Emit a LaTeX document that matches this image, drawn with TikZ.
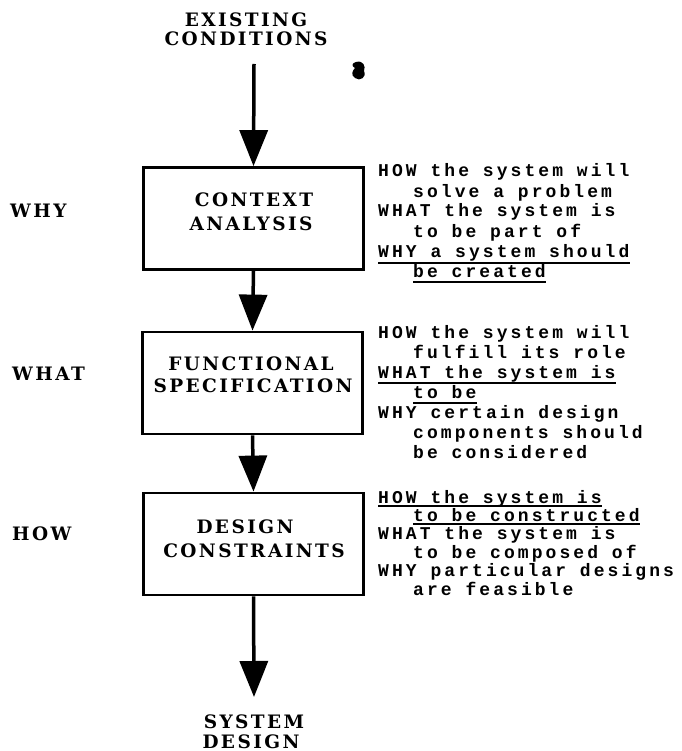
\documentclass[tikz,border=0pt]{standalone}
\usepackage{fontspec}
\setmainfont{DejaVu Serif}
% spaced serif capitals for stage names and side labels
\newfontfamily\capsfont[LetterSpace=13]{DejaVu Serif}
% spaced typewriter face for the explanatory notes
\newfontfamily\typefont[LetterSpace=17]{Liberation Mono}
\usetikzlibrary{arrows.meta}

\begin{document}
\begin{tikzpicture}[x=1pt,y=-1pt,
  box/.style={draw, line width=2.8pt, minimum width=220pt, minimum height=102pt, inner sep=0pt},
  title/.style={font=\capsfont\bfseries\fontsize{18.5}{21}\selectfont, inner sep=0pt, anchor=base},
  side/.style={font=\capsfont\bfseries\fontsize{18.5}{21}\selectfont, inner sep=0pt, anchor=base west},
  note/.style={font=\typefont\bfseries\fontsize{18}{20}\selectfont, inner sep=0pt,
               text height=11pt, text depth=3pt, anchor=base west},
  flow/.style={line width=3.5pt, -{Triangle[length=36pt,width=28pt]}},
  rule/.style={line width=1.6pt}
]
\useasboundingbox[fill=white] (0,0) rectangle (681,751);

% input and output
\node[title] (ex)  at (246,27)  {EXISTING};
\node[title] (con) at (246,46)  {CONDITIONS};
\node[title] (sy)  at (254,728) {SYSTEM};
\node[title] (de)  at (251,748) {DESIGN};

% the three stages
\node[box] (b1) at (253.5,218.5) {};
\node[box] (b2) at (252.5,383)   {};
\node[box] (b3) at (253.5,544)   {};

\node[title] (t11) at (254,207) {CONTEXT};
\node[title] (t12) at (251,230) {ANALYSIS};
\node[title] (t21) at (251,370) {FUNCTIONAL};
\node[title] (t22) at (253,392) {SPECIFICATION};
\node[title] (t31) at (245,533) {DESIGN};
\node[title] (t32) at (254,557) {CONSTRAINTS};

% side labels
\node[side] (why)  at (10,218) {WHY};
\node[side] (what) at (12,380) {WHAT};
\node[side] (how)  at (12,540) {HOW};

% flow arrows
\coordinate (a0) at (254,64);
\coordinate (a4) at (254,697);
\draw[flow] (a0) -- (b1.north);
\draw[flow] (b1.south) -- (b2.north);
\draw[flow] (b2.south) -- (b3.north);
\draw[flow] (b3.south) -- (a4);

% stray ink spot
\fill (356,62) .. controls (363,60) and (366,66) .. (364,71)
      .. controls (367,77) and (360,82) .. (355,78)
      .. controls (350,75) and (353,70) .. (355,68)
      .. controls (351,66) and (352,63) .. (356,62) -- cycle;

% notes beside the context analysis
\node[note] (n11) at (378,177) {HOW the system will};
\node[note] (n12) at (413,197) {solve a problem};
\node[note] (n13) at (378,217) {WHAT the system is};
\node[note] (n14) at (413,237) {to be part of};
\node[note] (n15) at (378,257) {WHY a system should};
\node[note] (n16) at (413,277) {be created};
\draw[rule] ([yshift=-6pt]n15.base west) -- ([yshift=-6pt]n15.base east);
\draw[rule] ([yshift=-5pt]n16.base west) -- ([yshift=-5pt]n16.base east);

% notes beside the functional specification
\node[note] (n21) at (378,338) {HOW the system will};
\node[note] (n22) at (413,358) {fulfill its role};
\node[note] (n23) at (378,378) {WHAT the system is};
\node[note] (n24) at (413,398) {to be};
\node[note] (n25) at (378,418) {WHY certain design};
\node[note] (n26) at (413,438) {components should};
\node[note] (n27) at (413,458) {be considered};
\draw[rule] ([yshift=-5pt]n23.base west) -- ([yshift=-5pt]n23.base east);
\draw[rule] ([yshift=-5pt]n24.base west) -- ([yshift=-5pt]n24.base east);

% notes beside the design constraints
\node[note] (n31) at (378,503)   {HOW the system is};
\node[note] (n32) at (413,521)   {to be constructed};
\node[note] (n33) at (378,539.5) {WHAT the system is};
\node[note] (n34) at (413,558)   {to be composed of};
\node[note] (n35) at (378,576.5) {WHY particular designs};
\node[note] (n36) at (413,595)   {are feasible};
\draw[rule] ([yshift=-3pt]n31.base west) -- ([yshift=-3pt]n31.base east);
\draw[rule] ([yshift=-3pt]n32.base west) -- ([yshift=-3pt]n32.base east);
\end{tikzpicture}
\end{document}
